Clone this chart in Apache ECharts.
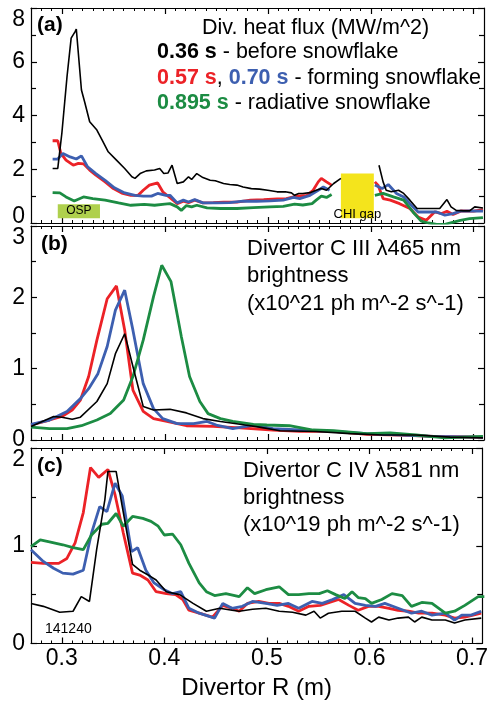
<!DOCTYPE html>
<html><head><meta charset="utf-8">
<script src="https://cdn.jsdelivr.net/npm/echarts@6/dist/echarts.min.js"></script>
<style>html,body{margin:0;padding:0;background:#fff}#c{width:491px;height:705px}</style>
</head><body><div id="c"></div>
<script>
const FONT = '"Liberation Sans", Helvetica, Arial, sans-serif';
const xMin = 0.27, xMax = 0.71;
const xTickValues = [0.3, 0.4, 0.5, 0.6, 0.7];
const yMaxA = 8, yMaxB = 3, yMaxC = 2;
const yStepA = 2, yStepB = 1, yStepC = 1;

// (a) divertor heat flux, MW/m^2  [R, value]; null = CHI gap
const heatBlack = [[.291,2.03],[.296,2.03],[.300,3.35],[.305,5.45],[.309,6.88],[.313,7.13],[.314,7.22],[.319,4.95],[.322,4.52],[.327,3.77],[.334,3.46],[.339,3.09],[.345,2.65],[.353,2.34],[.361,2.03],[.368,1.72],[.371,1.66],[.376,1.84],[.382,1.94],[.390,1.97],[.395,2.03],[.399,1.84],[.403,1.86],[.407,2.15],[.412,1.47],[.418,1.53],[.423,1.72],[.426,1.62],[.431,1.84],[.437,1.69],[.444,1.59],[.449,1.57],[.457,1.47],[.463,1.43],[.470,1.41],[.476,1.34],[.484,1.28],[.492,1.26],[.500,1.22],[.509,1.16],[.517,1.16],[.523,1.12],[.526,1.03],[.530,1.10],[.534,1.10],[.541,1.13],[.547,1.22],[.552,1.28],[.557,1.22],[.564,1.47],[.571,1.66],[.585,null],[.608,2.15],[.612,1.53],[.615,1.22],[.620,1.16],[.627,1.22],[.632,1.10],[.638,0.85],[.645,0.54],[.651,0.54],[.661,0.54],[.667,0.54],[.674,0.87],[.678,0.60],[.683,0.47],[.690,0.45],[.696,0.45],[.701,0.60],[.709,0.56]];
const heatRed = [[.291,3.06],[.296,3.06],[.299,2.59],[.304,2.34],[.311,2.15],[.316,2.22],[.321,2.20],[.327,1.97],[.333,1.78],[.342,1.53],[.350,1.28],[.359,1.10],[.367,1.03],[.374,1.03],[.379,1.22],[.385,1.41],[.393,1.49],[.398,1.16],[.405,0.94],[.412,0.72],[.418,0.81],[.423,0.76],[.429,0.85],[.437,0.75],[.447,0.76],[.457,0.78],[.470,0.78],[.483,0.85],[.496,0.87],[.509,0.90],[.518,0.91],[.528,1.00],[.538,1.03],[.544,1.22],[.549,1.53],[.552,1.66],[.557,1.53],[.562,1.41],[.585,null],[.604,1.53],[.607,1.41],[.612,0.91],[.619,0.85],[.628,0.72],[.638,0.54],[.646,0.22],[.654,0.10],[.662,0.41],[.669,0.35],[.674,0.44],[.680,0.32],[.688,0.45],[.700,0.44],[.709,0.50]];
const heatBlue = [[.291,2.38],[.296,2.38],[.301,2.59],[.308,2.46],[.314,2.38],[.319,2.50],[.325,2.09],[.333,1.84],[.342,1.59],[.351,1.31],[.361,1.12],[.371,1.03],[.379,1.00],[.387,1.00],[.393,1.10],[.401,1.03],[.405,1.03],[.412,0.75],[.418,0.85],[.423,0.78],[.429,0.87],[.437,0.75],[.450,0.75],[.463,0.76],[.476,0.81],[.489,0.81],[.502,0.82],[.515,0.85],[.525,0.95],[.531,0.91],[.541,1.03],[.549,1.22],[.554,1.34],[.560,1.22],[.585,null],[.604,1.41],[.611,1.28],[.617,1.43],[.625,1.10],[.632,0.97],[.638,0.72],[.646,0.41],[.654,0.41],[.664,0.41],[.672,0.29],[.680,0.35],[.687,0.44],[.696,0.45],[.709,0.44]];
const heatGreen = [[.291,1.13],[.298,1.12],[.304,0.97],[.312,0.82],[.321,0.97],[.330,0.91],[.342,0.85],[.355,0.75],[.367,0.66],[.380,0.69],[.390,0.66],[.400,0.70],[.405,0.72],[.412,0.60],[.416,0.47],[.421,0.65],[.426,0.60],[.431,0.66],[.441,0.56],[.454,0.54],[.470,0.54],[.486,0.57],[.502,0.60],[.515,0.62],[.526,0.70],[.534,0.67],[.543,0.72],[.547,0.85],[.552,1.00],[.557,0.95],[.562,1.06],[.585,null],[.604,1.03],[.612,1.10],[.622,0.97],[.632,0.85],[.641,0.41],[.649,0.07],[.656,0.00],[.664,-0.05],[.672,-0.05],[.687,0.10],[.696,0.16],[.709,0.20]];

// (b) C III 465 nm brightness, 1e21 ph m^-2 s^-1
const ciiiBlack = [[.270,.19],[.292,.33],[.300,.32],[.310,.29],[.318,.32],[.334,.54],[.344,.79],[.352,1.21],[.361,1.49],[.369,1.03],[.379,.47],[.389,.42],[.405,.43],[.421,.38],[.437,.30],[.454,.26],[.473,.22],[.492,.18],[.512,.13],[.547,.12],[.580,.09],[.612,.07],[.644,.07],[.677,.04],[.709,.03]];
const ciiiRed = [[.270,.21],[.288,.28],[.300,.33],[.310,.42],[.318,.56],[.326,.89],[.334,1.40],[.344,1.98],[.353,2.16],[.361,1.54],[.369,.70],[.379,.40],[.389,.30],[.402,.26],[.421,.20],[.447,.19],[.473,.17],[.505,.14],[.531,.12],[.564,.12],[.596,.08],[.628,.07],[.661,.05],[.709,.04]];
const ciiiBlue = [[.270,.22],[.288,.28],[.305,.40],[.318,.58],[.326,.72],[.335,.93],[.344,1.31],[.352,1.82],[.361,2.10],[.369,1.54],[.379,.79],[.389,.44],[.398,.30],[.412,.23],[.428,.23],[.441,.26],[.450,.21],[.466,.16],[.486,.21],[.505,.16],[.531,.14],[.564,.12],[.596,.09],[.661,.05],[.709,.04]];
const ciiiGreen = [[.270,.18],[.288,.16],[.305,.16],[.319,.20],[.334,.28],[.347,.37],[.360,.56],[.369,.89],[.379,1.40],[.389,2.01],[.397,2.45],[.406,2.22],[.416,1.45],[.424,.89],[.434,.54],[.442,.37],[.454,.30],[.466,.26],[.486,.22],[.499,.21],[.521,.20],[.544,.14],[.564,.13],[.596,.09],[.619,.10],[.644,.07],[.672,.03],[.709,.05]];

// (c) C IV 581 nm brightness, 1e19 ph m^-2 s^-1
const civBlack = [[.270,.41],[.282,.38],[.298,.32],[.311,.33],[.319,.48],[.327,.43],[.334,.96],[.342,1.47],[.345,1.76],[.353,1.76],[.359,1.40],[.369,.81],[.376,.75],[.386,.69],[.392,.65],[.402,.53],[.415,.50],[.428,.41],[.441,.33],[.454,.36],[.466,.34],[.473,.33],[.486,.35],[.499,.36],[.512,.33],[.525,.32],[.538,.29],[.546,.33],[.552,.26],[.560,.31],[.573,.33],[.586,.33],[.596,.26],[.602,.22],[.609,.27],[.619,.24],[.628,.26],[.638,.27],[.644,.22],[.651,.27],[.661,.24],[.674,.24],[.683,.21],[.693,.24],[.709,.26]];
const civRed = [[.270,.83],[.282,.82],[.297,.82],[.305,.87],[.313,1.03],[.321,1.34],[.328,1.80],[.336,1.70],[.345,1.78],[.352,1.52],[.360,1.13],[.369,.72],[.376,.70],[.384,.65],[.392,.53],[.402,.51],[.411,.50],[.418,.45],[.424,.34],[.434,.31],[.447,.27],[.457,.39],[.466,.36],[.473,.33],[.481,.41],[.492,.43],[.502,.41],[.512,.41],[.521,.38],[.531,.33],[.541,.38],[.552,.39],[.564,.43],[.570,.45],[.580,.39],[.589,.34],[.599,.38],[.609,.38],[.619,.36],[.628,.34],[.638,.33],[.648,.31],[.661,.31],[.674,.29],[.683,.26],[.693,.27],[.709,.31]];
const civBlue = [[.270,.96],[.282,.84],[.292,.77],[.301,.72],[.311,.71],[.321,.75],[.329,1.13],[.337,1.40],[.344,1.35],[.352,1.64],[.359,1.51],[.368,.94],[.374,.98],[.382,.75],[.390,.62],[.400,.55],[.408,.51],[.416,.53],[.424,.36],[.434,.31],[.449,.26],[.457,.41],[.466,.36],[.476,.38],[.486,.43],[.499,.41],[.510,.39],[.521,.41],[.531,.36],[.544,.43],[.554,.41],[.564,.45],[.575,.50],[.586,.41],[.596,.39],[.606,.38],[.615,.41],[.628,.36],[.641,.31],[.651,.33],[.661,.29],[.674,.31],[.683,.24],[.690,.29],[.699,.29],[.709,.33]];
const civGreen = [[.270,.99],[.279,1.06],[.288,1.04],[.301,1.01],[.311,.98],[.321,.96],[.329,1.11],[.339,1.22],[.345,1.23],[.353,1.33],[.360,1.20],[.369,1.30],[.379,1.28],[.387,1.25],[.394,1.20],[.400,1.11],[.408,1.12],[.416,1.01],[.424,.82],[.434,.62],[.441,.53],[.449,.49],[.460,.51],[.473,.48],[.481,.57],[.488,.51],[.499,.55],[.512,.58],[.521,.50],[.531,.50],[.541,.51],[.551,.51],[.559,.54],[.567,.50],[.576,.46],[.583,.53],[.589,.47],[.596,.46],[.602,.41],[.612,.45],[.622,.51],[.632,.49],[.641,.38],[.651,.42],[.661,.41],[.674,.31],[.683,.33],[.693,.39],[.706,.48],[.712,.48]];

// annotation boxes in panel (a), data coordinates
const chiGapR = [0.571, 0.603], chiGapQ = [0.18, 1.84];
const ospR = [0.296, 0.337], ospQ = [0.18, 0.70];

const RED = '#ec2227', BLUE = '#3d5fb0', GREEN = '#1c8c43', BLACK = '#000';

const grids = [
  {left: 31, right: 7, top: 8, height: 215},
  {left: 31, right: 7, top: 226, height: 214},
  {left: 31, right: 7, top: 448, height: 195.5}
];

function xAxes(g, showLabels) {
  const line = {onZero: false, lineStyle: {color: '#000', width: 1.2}};
  const base = {gridIndex: g, type: 'value', min: xMin, max: xMax, splitLine: {show: false}};
  const major = (pos) => Object.assign({}, base, {
    position: pos, axisLine: Object.assign({show: true}, line),
    axisTick: {show: true, inside: true, length: 6, customValues: xTickValues, lineStyle: {color: '#000', width: 1.2}},
    axisLabel: {show: false}
  });
  const minor = (pos) => Object.assign({}, base, {
    position: pos, interval: 0.01, axisLine: {show: false, onZero: false},
    axisTick: {show: true, inside: true, length: 3, lineStyle: {color: '#000', width: 1}},
    axisLabel: {show: false}
  });
  const bottom = major('bottom');
  if (showLabels) {
    bottom.axisLabel = {show: true, customValues: xTickValues, fontSize: 23, fontFamily: FONT, color: '#000', margin: 4,
      formatter: v => v.toFixed(1)};
    bottom.name = 'Divertor R (m)';
    bottom.nameLocation = 'middle';
    bottom.nameGap = 33;
    bottom.nameTextStyle = {fontSize: 24, fontFamily: FONT, color: '#000'};
  }
  return [bottom, minor('bottom'), major('top'), minor('top')];
}

function yAxes(g, max, step) {
  const base = {gridIndex: g, type: 'value', min: 0, max: max, interval: step, splitLine: {show: false},
    axisLine: {show: true, onZero: false, lineStyle: {color: '#000', width: 1.2}},
    axisTick: {show: true, inside: true, length: 6, lineStyle: {color: '#000', width: 1.2}},
    minorTick: {show: true, splitNumber: 2, length: 5, lineStyle: {color: '#000', width: 1.2}},
    minorSplitLine: {show: false}};
  const label = {show: true, fontSize: 23, fontFamily: FONT, color: '#000', margin: 6,
    verticalAlignMaxLabel: 'top'};
  if (g === 0) {
    // lift the "0" label of the top panel a little above its tick
    label.formatter = v => (v === 0 ? '{z|0}' : String(v));
    label.rich = {z: {fontSize: 23, fontFamily: FONT, color: '#000', padding: [0, 0, 12, 0]}};
  }
  const left = Object.assign({}, base, {position: 'left', axisLabel: label});
  const right = Object.assign({}, base, {position: 'right', axisLabel: {show: false}});
  return [left, right];
}

function lineSeries(g, data, color, width, z) {
  return {type: 'line', xAxisIndex: 4 * g, yAxisIndex: 2 * g, z: z,
    data: data.map(p => p[1] === null ? [p[0], '-'] : p),
    showSymbol: false, symbol: 'none', connectNulls: false,
    lineStyle: {color: color, width: width}, itemStyle: {color: color}, emphasis: {disabled: true}};
}

const series = [];
[[heatRed, RED], [heatBlue, BLUE], [heatGreen, GREEN]].forEach(([d, c], i) => series.push(lineSeries(0, d, c, 2.8, 3 + i)));
series.push(lineSeries(0, heatBlack, BLACK, 1.6, 6));
[[ciiiRed, RED], [ciiiBlue, BLUE], [ciiiGreen, GREEN]].forEach(([d, c], i) => series.push(lineSeries(1, d, c, 2.8, 3 + i)));
series.push(lineSeries(1, ciiiBlack, BLACK, 1.6, 6));
[[civRed, RED], [civBlue, BLUE], [civGreen, GREEN]].forEach(([d, c], i) => series.push(lineSeries(2, d, c, 2.8, 3 + i)));
series.push(lineSeries(2, civBlack, BLACK, 1.6, 6));

series.push({type: 'line', xAxisIndex: 0, yAxisIndex: 0, data: [], z: 2, silent: true,
  markArea: {silent: true, data: [
    [{name: 'CHI gap', xAxis: chiGapR[0], yAxis: chiGapQ[0], itemStyle: {color: '#f4e41c', opacity: 1},
      label: {show: true, position: 'insideBottom', distance: 0, offset: [0, 3], color: '#000', fontSize: 13, fontFamily: FONT}},
     {xAxis: chiGapR[1], yAxis: chiGapQ[1]}],
    [{name: 'OSP', xAxis: ospR[0], yAxis: ospQ[0], itemStyle: {color: '#afd04d', opacity: 1},
      label: {show: true, position: 'inside', color: '#000', fontSize: 12, fontFamily: FONT}},
     {xAxis: ospR[1], yAxis: ospQ[1]}]
  ]}});

const ts = (size, weight) => ({fontFamily: FONT, fontSize: size, fontWeight: weight || 'normal', color: '#000'});
const richA = {
  k: {fontFamily: FONT, fontSize: 21.5, fontWeight: 'bold', color: BLACK},
  r: {fontFamily: FONT, fontSize: 21.5, fontWeight: 'bold', color: RED},
  b: {fontFamily: FONT, fontSize: 21.5, fontWeight: 'bold', color: BLUE},
  g: {fontFamily: FONT, fontSize: 21.5, fontWeight: 'bold', color: GREEN}
};
const titles = [
  {text: '(a)', left: 37, top: 15, textStyle: ts(21, 'bold')},
  {text: 'Div. heat flux (MW/m^2)', left: 202, top: 17, textStyle: ts(21.5)},
  {text: '{k|0.36 s} - before snowflake', left: 157, top: 41, textStyle: Object.assign(ts(21.5), {rich: richA})},
  {text: '{r|0.57 s}, {b|0.70 s} - forming snowflake', left: 157, top: 67, textStyle: Object.assign(ts(21.5), {rich: richA})},
  {text: '{g|0.895 s} - radiative snowflake', left: 157, top: 92, textStyle: Object.assign(ts(21.5), {rich: richA})},
  {text: '(b)', left: 41, top: 234, textStyle: ts(21, 'bold')},
  {text: 'Divertor C III λ465 nm\nbrightness\n(x10^21 ph m^-2 s^-1)', left: 247, top: 235, textStyle: Object.assign(ts(22), {lineHeight: 27.5})},
  {text: '(c)', left: 37, top: 456, textStyle: ts(21, 'bold')},
  {text: 'Divertor C IV λ581 nm\nbrightness\n(x10^19 ph m^-2 s^-1)', left: 243, top: 458, textStyle: Object.assign(ts(22), {lineHeight: 26.8})},
  {text: '141240', left: 45, top: 622, textStyle: ts(14)}
].map(t => Object.assign({padding: 0, itemGap: 0}, t));

const chart = echarts.init(document.getElementById('c'), null, {renderer: 'canvas'});
chart.setOption({
  animation: false,
  backgroundColor: '#fff',
  title: titles,
  grid: grids,
  xAxis: [].concat(xAxes(0, false), xAxes(1, false), xAxes(2, true)),
  yAxis: [].concat(yAxes(0, yMaxA, yStepA), yAxes(1, yMaxB, yStepB), yAxes(2, yMaxC, yStepC)),
  series: series
});
</script></body></html>
